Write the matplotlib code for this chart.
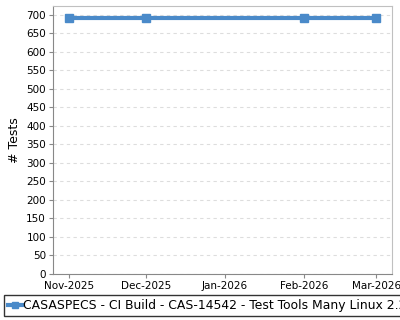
import matplotlib
matplotlib.use("Agg")
import matplotlib.pyplot as plt
import matplotlib.dates as mdates
from datetime import datetime, timedelta

dates = [datetime(2025, 11, 1), datetime(2025, 12, 1), datetime(2026, 2, 1), datetime(2026, 3, 1)]
tests = [691, 691, 691, 691]
tick_dates = [datetime(2025, 11, 1), datetime(2025, 12, 1), datetime(2026, 1, 1),
              datetime(2026, 2, 1), datetime(2026, 3, 1)]
series_name = "CASASPECS - CI Build - CAS-14542 - Test Tools Many Linux 2.28"

fig = plt.figure(figsize=(4, 3.2), dpi=100)
ax = fig.add_axes([53 / 400, 1 - 274 / 320, 339 / 400, 268 / 320])

line, = ax.plot(dates, tests, color="#4a8ac9", linewidth=3, marker="s", markersize=6)

ax.set_xlim(datetime(2025, 11, 1) - timedelta(days=6.2), datetime(2026, 3, 1) + timedelta(days=6.2))
ax.set_ylim(0, 724)
ax.set_yticks(range(0, 701, 50))
ax.set_xticks(tick_dates)
ax.xaxis.set_major_formatter(mdates.DateFormatter("%b-%Y"))
ax.tick_params(labelsize=7.5, length=3, color="#888888", pad=2)
ax.set_ylabel("# Tests", fontsize=9)

ax.grid(axis="y", color="#dddddd", linestyle=(0, (3, 3)), linewidth=0.8)
ax.set_axisbelow(True)
for s in ["left", "bottom"]:
    ax.spines[s].set_color("#888888")
for s in ["top", "right"]:
    ax.spines[s].set_color("#c0c0c0")

leg = fig.legend([line], [series_name], loc="lower left", bbox_to_anchor=(0.0, 0.0),
                 fontsize=8.9, frameon=True, fancybox=False, handlelength=1.1,
                 handletextpad=0.15, borderpad=0.35, borderaxespad=0.3, markerscale=0.8)
leg.get_frame().set_edgecolor("black")
leg.get_frame().set_linewidth(1)

fig.savefig("out.png", dpi=100)
